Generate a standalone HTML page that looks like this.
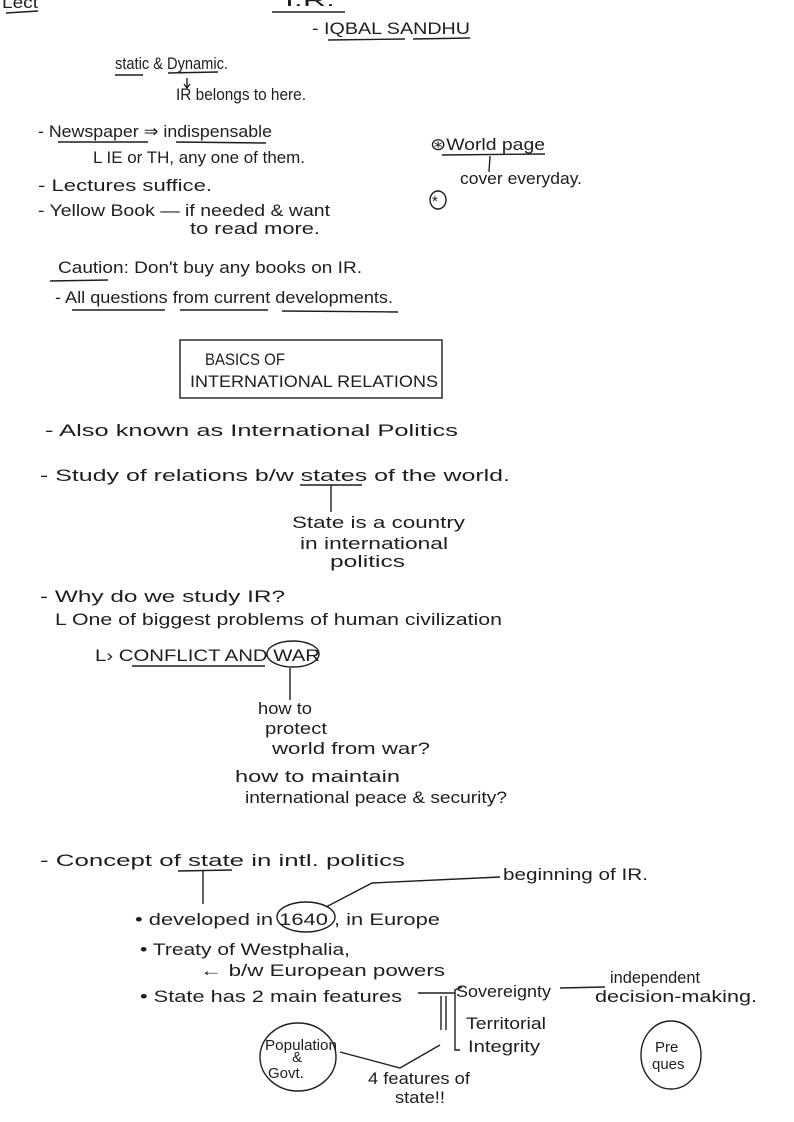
<!DOCTYPE html>
<html><head><meta charset="utf-8"><style>
html,body{margin:0;padding:0;background:#fff;}
svg{display:block;}
text{font-family:"Liberation Sans",sans-serif;fill:#1e1e1e;font-size:17px;}
.s{font-size:15px;}
line,path,ellipse,rect{stroke:#1e1e1e;stroke-width:1.4;fill:none;}
</style></head><body>
<svg width="794" height="1122" viewBox="0 0 794 1122" xmlns="http://www.w3.org/2000/svg">
<text x="2" y="8" textLength="36" lengthAdjust="spacingAndGlyphs">Lect</text>
<line x1="6" y1="13" x2="38" y2="11"/>
<text x="285" y="6" textLength="50" lengthAdjust="spacingAndGlyphs">I.R.</text>
<line x1="272" y1="12" x2="345" y2="12"/>
<text x="312" y="34" textLength="158" lengthAdjust="spacingAndGlyphs">- IQBAL SANDHU</text>
<line x1="328" y1="40" x2="405" y2="39"/><line x1="413" y1="39" x2="470" y2="38"/>

<text x="115" y="69" textLength="113" lengthAdjust="spacingAndGlyphs">static &amp; Dynamic.</text>
<line x1="115" y1="75" x2="143" y2="75"/><line x1="168" y1="73" x2="218" y2="72"/>
<line x1="187" y1="78" x2="187" y2="87"/><path d="M184 84 L187 88 L190 84"/>
<text x="176" y="100" textLength="130" lengthAdjust="spacingAndGlyphs">IR belongs to here.</text>

<text x="38" y="137" textLength="234" lengthAdjust="spacingAndGlyphs">- Newspaper ⇒ indispensable</text>
<line x1="58" y1="142" x2="148" y2="142"/><line x1="176" y1="142" x2="266" y2="143"/>
<text x="93" y="163" textLength="212" lengthAdjust="spacingAndGlyphs">L IE or TH, any one of them.</text>
<text x="38" y="191" textLength="174" lengthAdjust="spacingAndGlyphs">- Lectures suffice.</text>
<text x="38" y="216" textLength="292" lengthAdjust="spacingAndGlyphs">- Yellow Book — if needed &amp; want</text>
<text x="190" y="234" textLength="130" lengthAdjust="spacingAndGlyphs">to read more.</text>

<text x="430" y="150" textLength="115" lengthAdjust="spacingAndGlyphs">⊛World page</text>
<line x1="442" y1="155" x2="545" y2="154"/>
<line x1="490" y1="156" x2="489" y2="172"/>
<text x="460" y="184" textLength="122" lengthAdjust="spacingAndGlyphs">cover everyday.</text>
<ellipse cx="438" cy="200" rx="8" ry="9"/><text x="432" y="206" class="s">*</text>

<text x="58" y="273" textLength="304" lengthAdjust="spacingAndGlyphs">Caution: Don't buy any books on IR.</text>
<line x1="50" y1="281" x2="108" y2="280"/>
<text x="55" y="303" textLength="338" lengthAdjust="spacingAndGlyphs">- All questions from current developments.</text>
<line x1="72" y1="310" x2="165" y2="310"/><line x1="180" y1="310" x2="268" y2="310"/><line x1="282" y1="311" x2="398" y2="312"/>

<rect x="180" y="340" width="262" height="58"/>
<text x="205" y="365" textLength="80" lengthAdjust="spacingAndGlyphs">BASICS OF</text>
<text x="190" y="387" textLength="248" lengthAdjust="spacingAndGlyphs">INTERNATIONAL RELATIONS</text>

<text x="45" y="436" textLength="413" lengthAdjust="spacingAndGlyphs">- Also known as International Politics</text>
<text x="40" y="481" textLength="470" lengthAdjust="spacingAndGlyphs">- Study of relations b/w states of the world.</text>
<line x1="300" y1="485" x2="362" y2="485"/><line x1="331" y1="485" x2="331" y2="512"/>
<text x="292" y="528" textLength="173" lengthAdjust="spacingAndGlyphs">State is a country</text>
<text x="300" y="549" textLength="148" lengthAdjust="spacingAndGlyphs">in international</text>
<text x="330" y="567" textLength="75" lengthAdjust="spacingAndGlyphs">politics</text>

<text x="40" y="602" textLength="245" lengthAdjust="spacingAndGlyphs">- Why do we study IR?</text>
<text x="55" y="625" textLength="447" lengthAdjust="spacingAndGlyphs">L One of biggest problems of human civilization</text>
<text x="95" y="661" textLength="225" lengthAdjust="spacingAndGlyphs">L› CONFLICT AND WAR</text>
<line x1="132" y1="666" x2="265" y2="666"/>
<ellipse cx="293" cy="654" rx="26" ry="13"/>
<line x1="290" y1="668" x2="290" y2="700"/>
<text x="258" y="714" textLength="54" lengthAdjust="spacingAndGlyphs">how to</text>
<text x="265" y="734" textLength="62" lengthAdjust="spacingAndGlyphs">protect</text>
<text x="272" y="754" textLength="158" lengthAdjust="spacingAndGlyphs">world from war?</text>
<text x="235" y="782" textLength="165" lengthAdjust="spacingAndGlyphs">how to maintain</text>
<text x="245" y="803" textLength="262" lengthAdjust="spacingAndGlyphs">international peace &amp; security?</text>

<text x="40" y="866" textLength="365" lengthAdjust="spacingAndGlyphs">- Concept of state in intl. politics</text>
<line x1="178" y1="871" x2="232" y2="870"/><line x1="203" y1="871" x2="203" y2="904"/>
<path d="M326 907 L372 883 L500 877"/>
<text x="503" y="880" textLength="145" lengthAdjust="spacingAndGlyphs">beginning of IR.</text>
<text x="135" y="925" textLength="305" lengthAdjust="spacingAndGlyphs">• developed in  1640 , in Europe</text>
<ellipse cx="306" cy="917" rx="29" ry="15"/>
<text x="140" y="955" textLength="210" lengthAdjust="spacingAndGlyphs">• Treaty of Westphalia,</text>
<text x="200" y="976" textLength="245" lengthAdjust="spacingAndGlyphs">← b/w European powers</text>
<text x="140" y="1002" textLength="262" lengthAdjust="spacingAndGlyphs">• State has 2 main features</text>
<line x1="418" y1="993" x2="455" y2="993"/>
<path d="M462 987 L455 990 L455 1050 L460 1050"/>
<line x1="441" y1="996" x2="441" y2="1030"/><line x1="446" y1="996" x2="446" y2="1030"/>
<text x="456" y="997" textLength="95" lengthAdjust="spacingAndGlyphs">Sovereignty</text>
<line x1="560" y1="988" x2="605" y2="987"/>
<text x="610" y="983" textLength="90" lengthAdjust="spacingAndGlyphs">independent</text>
<text x="595" y="1002" textLength="162" lengthAdjust="spacingAndGlyphs">decision-making.</text>
<text x="466" y="1029" textLength="80" lengthAdjust="spacingAndGlyphs">Territorial</text>
<text x="468" y="1052" textLength="72" lengthAdjust="spacingAndGlyphs">Integrity</text>
<ellipse cx="298" cy="1057" rx="38" ry="34"/>
<text x="265" y="1050" class="s" textLength="72" lengthAdjust="spacingAndGlyphs">Population</text>
<text x="292" y="1062" class="s">&amp;</text>
<text x="268" y="1078" class="s">Govt.</text>
<path d="M340 1052 L400 1068 L440 1045"/>
<text x="368" y="1084" textLength="102" lengthAdjust="spacingAndGlyphs">4 features of</text>
<text x="395" y="1103" textLength="50" lengthAdjust="spacingAndGlyphs">state!!</text>
<ellipse cx="671" cy="1055" rx="30" ry="34"/>
<text x="655" y="1052" class="s">Pre</text>
<text x="652" y="1069" class="s">ques</text>
</svg>
</body></html>
